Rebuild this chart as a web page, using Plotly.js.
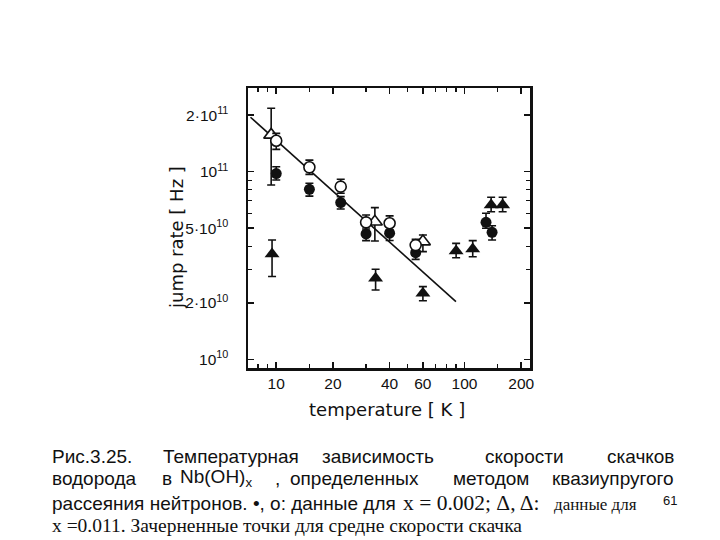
<!DOCTYPE html>
<html>
<head>
<meta charset="utf-8">
<script src="https://cdn.plot.ly/plotly-3.0.1.min.js"></script>
<style>html,body{margin:0;padding:0;background:#fff;}#chart{width:720px;height:540px;}</style>
</head>
<body>
<div id="chart"></div>
<script>
// ---- data ----
const xTickVals = [10, 20, 40, 60, 100, 200];
const xTickText = ['10', '20', '40', '60', '100', '200'];
const xMinorVals = [8, 9, 15, 30, 50, 70, 80, 90, 150];
const yTickVals = [1e10, 2e10, 5e10, 1e11, 2e11];
const yTickText = ['10<sup>10</sup>', '2·10<sup>10</sup>', '5·10<sup>10</sup>', '10<sup>11</sup>', '2·10<sup>11</sup>'];
const yMinorVals = [3e10, 4e10, 6e10, 7e10, 8e10, 9e10];

// filled circles
const fcX = [10, 15, 22, 30, 40, 55, 130, 140];
const fcY = [9.77e10, 8.05e10, 6.84e10, 4.66e10, 4.70e10, 3.70e10, 5.37e10, 4.75e10];
const fcHi = [1.063e11, 8.67e10, 7.36e10, 5.09e10, 5.10e10, 3.91e10, 6.0e10, 5.15e10];
const fcLo = [9.03e10, 7.41e10, 6.32e10, 4.29e10, 4.30e10, 3.41e10, 4.99e10, 4.32e10];

// open circles
const ocX = [10, 15, 22, 30, 40, 55];
const ocY = [1.462e11, 1.055e11, 8.32e10, 5.37e10, 5.31e10, 4.06e10];
const ocHi = [1.60e11, 1.153e11, 9.11e10, 5.88e10, 5.81e10, 4.36e10];
const ocLo = [1.315e11, 9.68e10, 7.67e10, 4.95e10, 4.90e10, 3.80e10];

// open triangles
const otX = [9.4, 33.4, 60.1];
const otY = [1.57e11, 5.41e10, 4.24e10];
const otHi = [2.18e11, 6.43e10, 4.60e10];
const otLo = [8.49e10, 4.27e10, 3.75e10];

// filled triangles
const ftX = [9.5, 33.7, 60.1, 90.2, 110.5, 138.4, 159.3];
const ftY = [3.64e10, 2.70e10, 2.25e10, 3.78e10, 3.87e10, 6.65e10, 6.65e10];
const ftHi = [4.32e10, 3.02e10, 2.44e10, 4.15e10, 4.29e10, 7.30e10, 7.30e10];
const ftLo = [2.76e10, 2.34e10, 2.05e10, 3.48e10, 3.52e10, 6.12e10, 6.12e10];

// fitted line end points
const lineX = [7.3, 90];
const lineY = [1.95e11, 2.03e10];

// ---- helpers ----
function errs(y, hi, lo) {
  return {type: 'data', symmetric: false,
    array: y.map((v, i) => hi[i] - v),
    arrayminus: y.map((v, i) => v - lo[i]),
    color: '#111', thickness: 1.6, width: 4};
}
const L = 248, R = 530, T = 88, B = 368;
const px = x => (x - L) / (R - L);
const py = y => (B - y) / (B - T);

const traces = [
  {x: lineX, y: lineY, mode: 'lines', line: {color: '#111', width: 1.6}, hoverinfo: 'skip'},
  {x: ftX, y: ftY, mode: 'markers', error_y: errs(ftY, ftHi, ftLo),
    marker: {symbol: 'triangle-up', size: 13, color: '#111'}},
  {x: otX, y: otY, mode: 'markers', error_y: errs(otY, otHi, otLo),
    marker: {symbol: 'triangle-up', size: 13, color: '#fff', line: {color: '#111', width: 1.6}}},
  {x: fcX, y: fcY, mode: 'markers', error_y: errs(fcY, fcHi, fcLo),
    marker: {symbol: 'circle', size: 11, color: '#111'}},
  {x: ocX, y: ocY, mode: 'markers', error_y: errs(ocY, ocHi, ocLo),
    marker: {symbol: 'circle', size: 11, color: '#fff', line: {color: '#111', width: 1.6}}}
];

const sans = 'Liberation Sans, Arial, sans-serif';
const serif = 'Liberation Serif, Times New Roman, serif';
const figFont = 'DejaVu Sans, sans-serif';
const tickFont = 'Liberation Sans, Arial, sans-serif';

function ann(text, x, y, opts) {
  return Object.assign({text: text, x: px(x), y: py(y), xref: 'paper', yref: 'paper',
    xanchor: 'left', yanchor: 'middle', showarrow: false,
    font: {family: sans, size: 19, color: '#111'}}, opts || {});
}

const annotations = [
  // axis titles
  ann('jump rate [ Hz ]', 176, 238, {xanchor: 'center', textangle: -90, font: {family: figFont, size: 18, color: '#111'}}),
  ann('temperature [ K ]', 387, 409, {xanchor: 'center', font: {family: figFont, size: 18, color: '#111'}}),
  // caption line 1
  ann('Рис.3.25.', 50, 456),
  ann('Температурная', 161, 456),
  ann('зависимость', 320, 456),
  ann('скорости', 483, 456),
  ann('скачков', 676, 456, {xanchor: 'right'}),
  // line 2
  ann('водорода', 50, 478),
  ann('в', 160, 478),
  ann('Nb(OH)<sub>x</sub>', 178, 478),
  ann(',', 273, 478),
  ann('определенных', 288, 478),
  ann('методом', 451, 478),
  ann('квазиупругого', 676, 478, {xanchor: 'right'}),
  // line 3
  ann('рассеяния нейтронов. •, о: данные для', 50, 503),
  ann('x = 0.002; Δ, Δ:', 401, 503, {font: {family: serif, size: 21.5, color: '#111'}}),
  ann('данные для', 552, 504, {font: {family: serif, size: 17, color: '#111'}}),
  ann('61', 661, 500, {font: {family: sans, size: 13, color: '#111'}}),
  // line 4
  ann('x =0.011. Зачерненные точки для средне скорости скачка', 50, 525, {font: {family: serif, size: 19.5, color: '#111'}})
];

const axisCommon = {
  type: 'log', showline: true, linecolor: '#111', linewidth: 2.5, mirror: 'allticks',
  ticks: 'inside', ticklen: 6, tickwidth: 1.5, tickcolor: '#111',
  tickmode: 'array', showgrid: false, zeroline: false,
  tickfont: {family: tickFont, size: 15.5, color: '#111'}
};

const layout = {
  width: 720, height: 540,
  margin: {l: L, r: 720 - R, t: T, b: 540 - B, pad: 0},
  paper_bgcolor: '#fff', plot_bgcolor: '#fff',
  showlegend: false,
  font: {family: figFont, color: '#111'},
  xaxis: Object.assign({}, axisCommon, {
    range: [Math.log10(7.08), Math.log10(222.6)],
    tickvals: xTickVals, ticktext: xTickText, ticklabelstandoff: 0,
    minor: {tickmode: 'array', tickvals: xMinorVals, ticks: 'inside', ticklen: 4, tickwidth: 1.2, tickcolor: '#111', showgrid: false}
  }),
  yaxis: Object.assign({}, axisCommon, {
    range: [9.9536, 11.446],
    tickvals: yTickVals, ticktext: yTickText, ticklabelstandoff: 14,
    minor: {tickmode: 'array', tickvals: yMinorVals, ticks: 'inside', ticklen: 4, tickwidth: 1.2, tickcolor: '#111', showgrid: false}
  }),
  annotations: annotations
};

Plotly.newPlot('chart', traces, layout, {staticPlot: true, displayModeBar: false});
</script>
</body>
</html>
